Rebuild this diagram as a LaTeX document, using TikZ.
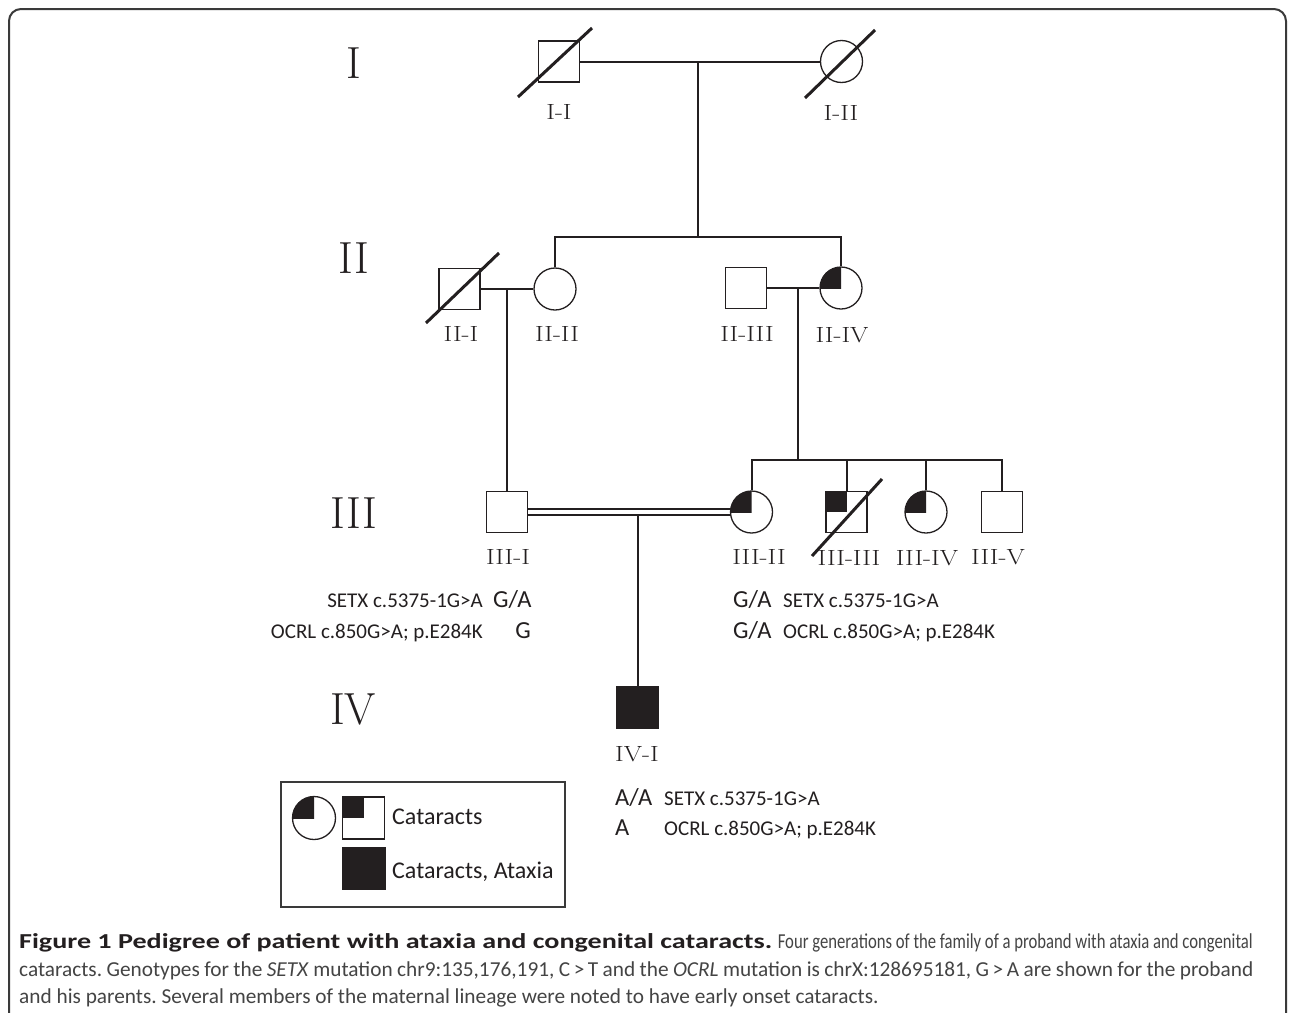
\documentclass[tikz,border=0pt]{standalone}
\usepackage{fontspec}
\usepackage{graphicx}
\usetikzlibrary{calc}
\newfontfamily\gfont{Carlito}
\newfontfamily\labfont{Latin Modern Roman}[FakeStretch=1.2]
\definecolor{pedi}{HTML}{231F20}
\definecolor{framec}{HTML}{3A3A3A}
\definecolor{capc}{HTML}{444444}
\begin{document}
\frenchspacing
\begin{tikzpicture}[x=1pt,y=-1pt,
  male/.style={draw=pedi, line width=1.3pt, rectangle, minimum size=41pt, inner sep=0pt, fill=white},
  female/.style={draw=pedi, line width=1.3pt, circle, minimum size=42pt, inner sep=0pt, fill=white},
  conn/.style={draw=pedi, line width=2pt},
  slashline/.style={draw=pedi, line width=3pt},
  lab/.style={font=\labfont\fontsize{22}{22}\selectfont, text=pedi, inner sep=0pt},
  genlab/.style={font=\fontsize{45}{45}\selectfont, text=pedi, inner sep=0pt},
  smalltxt/.style={font=\gfont\fontsize{21}{21}\selectfont, text=pedi, inner sep=0pt},
  bigtxt/.style={font=\gfont\fontsize{24.5}{24.5}\selectfont, text=pedi, inner sep=0pt},
  legtxt/.style={font=\gfont\fontsize{24}{24}\selectfont, text=pedi, inner sep=0pt},
  captxt/.style={font=\gfont\fontsize{21.3}{21.3}\selectfont, text=capc, inner sep=0pt, anchor=base west}
]
\useasboundingbox (0,0) rectangle (1295,1012);
\fill[white] (0,0) rectangle (1295,1012);
% frame
\draw[line width=2pt, draw=framec, rounded corners=12pt] (9,9) rectangle (1286,1040);

% generation labels
\node[genlab] (gI) at (354,63) {I};
\node[genlab] (gII) at (354,258) {II};
\node[genlab] (gIII) at (354,513) {III};
\node[genlab] (gIV) at (353,709) {IV};

% individuals
\node[male] (I1) at (559,61.5) {};
\node[female] (I2) at (841.5,61.5) {};
\node[male] (II1) at (459.5,289) {};
\node[female] (II2) at (555,289) {};
\node[male] (II3) at (746,288) {};
\node[female] (II4) at (841,288) {};
\node[male] (III1) at (507,512) {};
\node[female] (III2) at (751.5,512) {};
\node[male] (III3) at (846.5,512) {};
\node[female] (III4) at (926,512) {};
\node[male] (III5) at (1002,512) {};
\node[male, fill=pedi] (IV1) at (637.5,707.5) {};

% connection points
\coordinate (m1) at (698,61.5);
\coordinate (s2) at (698,237);
\coordinate (m2) at (507,289);
\coordinate (m3) at (798,288);
\coordinate (s3) at (798,460);
\coordinate (m4) at (637.5,515);

% generation I
\draw[conn] (I1.east) -- (I2.west);
\draw[conn] (m1) -- (s2);
\draw[conn] (II2.north) -- (II2.north |- s2) -- (II4.north |- s2) -- (II4.north);
% generation II couples
\draw[conn] (II1.east) -- (II2.west);
\draw[conn] (m2) -- (III1.north);
\draw[conn] (II3.east) -- (II4.west);
\draw[conn] (m3) -- (s3);
\draw[conn] (III2.north) -- (III2.north |- s3) -- (III5.north |- s3) -- (III5.north);
\draw[conn] (III3.north |- s3) -- (III3.north);
\draw[conn] (III4.north |- s3) -- (III4.north);
% consanguineous union
\draw[conn] ([yshift=3pt]III1.east) -- ([yshift=3pt]III2.west);
\draw[conn] ([yshift=-3pt]III1.east) -- ([yshift=-3pt]III2.west);
\draw[conn] (m4) -- (IV1.north);

% affected quarters
\foreach \n in {II4,III2,III4}{
  \begin{scope}
    \clip ($(\n.center)+(-25,-25)$) rectangle (\n.center);
    \fill[pedi] (\n.center) circle[radius=21];
  \end{scope}
}
\fill[pedi] (III3.center) rectangle (III3.north west);

% deceased slashes
\draw[slashline] (518,97) -- (592,28);
\draw[slashline] (805,98) -- (875,30);
\draw[slashline] (426,323) -- (499,253);
\draw[slashline] (812,556) -- (882,479);

% individual labels
\node[lab] (lI1) at (559,112) {I-I};
\node[lab] (lI2) at (841,113) {I-II};
\node[lab] (lII1) at (461,334) {II-I};
\node[lab] (lII2) at (557,334) {II-II};
\node[lab] (lII3) at (747,334) {II-III};
\node[lab] (lII4) at (842,335) {II-IV};
\node[lab] (lIII1) at (508,557) {III-I};
\node[lab] (lIII2) at (759,557) {III-II};
\node[lab] (lIII3) at (849,558) {III-III};
\node[lab] (lIII4) at (927,558) {III-IV};
\node[lab] (lIII5) at (998,557) {III-V};
\node[lab] (lIV1) at (637,754) {IV-I};

% genotypes III-I
\node[smalltxt, anchor=base east] (t1) at (483,607) {SETX c.5375-1G>A};
\node[bigtxt, anchor=base west] (t2) at (493,607) {G/A};
\node[smalltxt, anchor=base east] (t3) at (483,638) {OCRL c.850G>A; p.E284K};
\node[bigtxt, anchor=base east] (t4) at (531,638) {G};
% genotypes III-II
\node[bigtxt, anchor=base west] (t5) at (733,607) {G/A};
\node[smalltxt, anchor=base west] (t6) at (783,607) {SETX c.5375-1G>A};
\node[bigtxt, anchor=base west] (t7) at (733,638) {G/A};
\node[smalltxt, anchor=base west] (t8) at (783,638) {OCRL c.850G>A; p.E284K};
% genotypes IV-I
\node[bigtxt, anchor=base west] (t9) at (615,805) {A/A};
\node[smalltxt, anchor=base west] (t10) at (664,805) {SETX c.5375-1G>A};
\node[bigtxt, anchor=base west] (t11) at (615,835) {A};
\node[smalltxt, anchor=base west] (t12) at (664,835) {OCRL c.850G>A; p.E284K};

% legend
\draw[line width=1.5pt, draw=framec] (281,782) rectangle (565,907);
\node[female, minimum size=43pt] (Lc) at (314,818) {};
\begin{scope}
  \clip ($(Lc.center)+(-25,-25)$) rectangle (Lc.center);
  \fill[pedi] (Lc.center) circle[radius=21.5];
\end{scope}
\node[male, minimum size=42pt] (Ls) at (363.5,818) {};
\fill[pedi] (Ls.center) rectangle (Ls.north west);
\node[male, minimum size=42pt, fill=pedi] (Lb) at (364,868.5) {};
\node[legtxt, anchor=base west] (Lt1) at (392,824) {Cataracts};
\node[legtxt, anchor=base west] (Lt2) at (392,878) {Cataracts, Ataxia};

% caption
\node[captxt, text=pedi] (c1a) at (19,948) {\resizebox{753pt}{\height}{\textbf{Figure 1 Pedigree of patient with ataxia and congenital cataracts.}}};
\node[captxt, anchor=base east] (c1b) at (1253,948) {\resizebox{475pt}{\height}{Four generations of the family of a proband with ataxia and congenital}};
\node[captxt] (c2) at (19,976) {\makebox[1234pt][s]{cataracts. Genotypes for the \textit{SETX} mutation chr9:135,176,191, C\,>\,T and the \textit{OCRL} mutation is chrX:128695181, G\,>\,A are shown for the proband}};
\node[captxt] (c3) at (19,1003) {and his parents. Several members of the maternal lineage were noted to have early onset cataracts.};
\end{tikzpicture}
\end{document}
